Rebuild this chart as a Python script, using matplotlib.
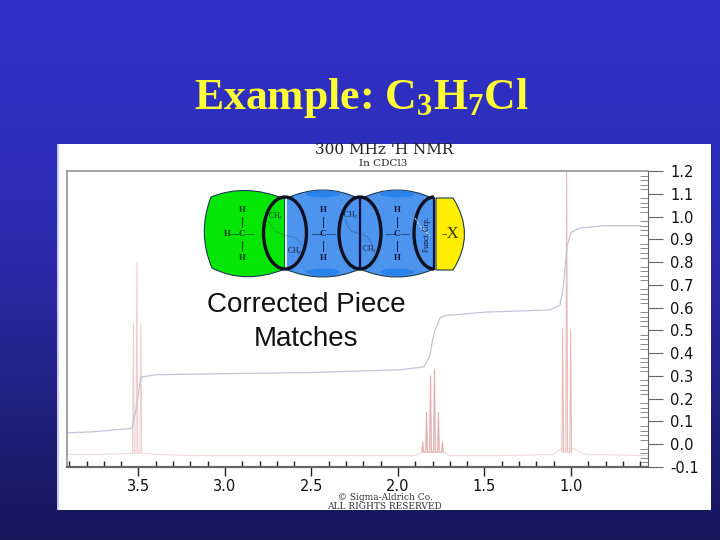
import numpy as np
import matplotlib
matplotlib.use("Agg")
import matplotlib.pyplot as plt
from matplotlib.patches import Ellipse, PathPatch, Arc, Rectangle
from matplotlib.path import Path

plt.rcParams["mathtext.default"] = "regular"
plt.rcParams["mathtext.fontset"] = "custom"
plt.rcParams["mathtext.rm"] = "Liberation Serif:bold"

title_parts = "Example: C$_3$H$_7$Cl"
x_major = [3.5, 3.0, 2.5, 2.0, 1.5, 1.0]
y_major = [1.2, 1.1, 1.0, 0.9, 0.8, 0.7, 0.6, 0.5, 0.4, 0.3, 0.2, 0.1, 0.0, -0.1]

# ppm / height of the peaks
triplet_a_ppm = [3.529, 3.509, 3.486]
triplet_a_top = [0.53, 0.80, 0.53]
sextet_ppm = [1.857, 1.835, 1.812, 1.789, 1.766, 1.743]
sextet_top = [0.01, 0.14, 0.30, 0.33, 0.14, 0.01]
triplet_b_ppm = [1.048, 1.025, 1.002]
triplet_b_top = [0.51, 1.20, 0.50]

base_ppm = [3.91, 3.70, 3.56, 3.46, 3.40, 3.18, 2.6, 1.90, 1.86, 1.74, 1.70, 1.4, 1.10, 1.06, 0.98, 0.94, 0.90, 0.56]
base_val = [-0.045, -0.045, -0.04, -0.04, -0.045, -0.05, -0.05, -0.05, -0.035, -0.035, -0.05, -0.05, -0.045, -0.02, -0.02, -0.04, -0.045, -0.05]

integ_ppm = [3.91, 3.75, 3.538, 3.515, 3.486, 3.40, 3.0, 2.5, 1.988, 1.85, 1.815, 1.80, 1.786, 1.757, 1.728, 1.5, 1.12, 1.064, 1.046, 1.03, 1.023, 1.0, 0.948, 0.8, 0.60]
integ_val = [0.05, 0.055, 0.07, 0.15, 0.295, 0.305, 0.31, 0.315, 0.327, 0.34, 0.39, 0.46, 0.50, 0.555, 0.565, 0.58, 0.59, 0.61, 0.68, 0.81, 0.87, 0.93, 0.95, 0.96, 0.96]

fig = plt.figure(figsize=(7.2, 5.4), dpi=100)

# slide background
bg = fig.add_axes([0, 0, 1, 1])
bg.set_xlim(0, 720)
bg.set_ylim(540, 0)
bg.axis("off")
grad = np.array([[48, 48, 200], [46, 46, 190], [42, 42, 168], [32, 32, 126], [22, 22, 90]]) / 255
bg.imshow(np.stack([np.interp(np.linspace(0, 4, 540), np.arange(5), grad[:, i]) for i in range(3)], axis=-1)[:, None, :],
          extent=[0, 720, 540, 0], aspect="auto", zorder=0)
bg.add_patch(Rectangle((57, 144), 654, 366, fc="#ffffff", ec="none", zorder=1))
bg.add_patch(Rectangle((57, 144), 2, 366, fc="#c8c8f0", ec="none", zorder=1))
bg.text(361, 109, title_parts, ha="center", va="baseline", fontsize=31.5, family="Liberation Serif",
        weight="bold", color="#ffff33", zorder=2)


def px_box(left, top, right, bottom):
    return [left / 720, 1 - bottom / 540, (right - left) / 720, (bottom - top) / 540]


ax = fig.add_axes(px_box(67, 171, 648, 467))
ax.patch.set_alpha(0)
ax.set_xlim(3.913, 0.555)
ax.set_ylim(-0.1, 1.2)


def trace(ppm, top, width=0.005):
    xs, ys = [], []
    for p, t in zip(ppm, top):
        xs += [p + width, p, p - width]
        ys += [-0.035, t, -0.035]
    return xs, ys


ax.plot(base_ppm, base_val, color="#eedcdc", lw=0.8)
xs, ys = trace(triplet_a_ppm, triplet_a_top)
ax.plot(xs, ys, color="#efcfcf", lw=0.8)
xs, ys = trace(sextet_ppm, sextet_top)
ax.plot(xs, ys, color="#e2abab", lw=0.8)
xs, ys = trace(triplet_b_ppm, triplet_b_top)
ax.plot(xs, ys, color="#e8baba", lw=0.8)
ax.plot(integ_ppm, integ_val, color="#c4c4d8", lw=0.9)

for s in ["left", "top"]:
    ax.spines[s].set_color("#8a8a8a")
    ax.spines[s].set_linewidth(1.1)
ax.spines["right"].set_color("#666666")
ax.spines["bottom"].set_color("#666666")
ax.spines["bottom"].set_linewidth(1.6)

ax.set_xticks(x_major)
ax.set_xticks(np.arange(0.6, 3.95, 0.1), minor=True)
ax.set_xticklabels(["%.1f" % v for v in x_major], fontsize=10.5, color="#111111")
ax.tick_params(axis="x", which="major", direction="out", length=6.5, width=1, color="#222222", pad=2)
ax.tick_params(axis="x", which="minor", direction="in", length=4, width=1, color="#222222")
ax.yaxis.tick_right()
ax.set_yticks(y_major)
ax.set_yticks(np.arange(-0.1, 1.2, 0.02), minor=True)
ax.set_yticklabels(["%.1f" % v for v in y_major], fontsize=10.5, color="#111111")
ax.tick_params(axis="y", which="major", direction="out", length=11, width=0.8, color="#666666", pad=5)
ax.tick_params(axis="y", which="minor", direction="in", length=6, width=0.6, color="#777777")

# overlay with the headings and the molecule pieces, in picture pixels
ov = fig.add_axes([0, 0, 1, 1])
ov.set_xlim(0, 720)
ov.set_ylim(540, 0)
ov.axis("off")
ov.patch.set_alpha(0)

ov.text(384, 150, "300 MHz 'H NMR", ha="center", va="center", fontsize=11, family="DejaVu Serif", color="#222222")
ov.text(383, 163, "In CDCl3", ha="center", va="center", fontsize=7.5, family="DejaVu Serif", color="#222222")
ov.text(385, 498, "© Sigma-Aldrich Co.", ha="center", va="center", fontsize=6.5, family="DejaVu Serif", color="#333333")
ov.text(384, 506.5, "ALL RIGHTS RESERVED", ha="center", va="center", fontsize=6.5, family="DejaVu Serif", color="#333333")


def blob(points, fc):
    verts, codes = [points[0]], [Path.MOVETO]
    for i in range(1, len(points), 2):
        verts += [points[i], points[i + 1]]
        codes += [Path.CURVE3, Path.CURVE3]
    ov.add_patch(PathPatch(Path(verts, codes), fc=fc, ec="#1a3a50", lw=0.8, zorder=2))


blob([(211, 197), (245, 183), (285, 199), (285, 233), (285, 269), (245, 285), (212, 268), (197, 233), (211, 197)], "#06e606")
blob([(285, 199), (323, 181), (360, 199), (360, 233), (360, 269), (323, 285), (285, 269), (285, 233), (285, 199)], "#4d94ee")
blob([(360, 199), (397, 181), (434, 199), (434, 233), (434, 269), (397, 285), (360, 269), (360, 233), (360, 199)], "#4d94ee")
blob([(436, 198), (445, 198), (453, 198), (476, 234), (453, 270), (444, 270), (436, 270), (436, 234), (436, 198)], "#ffee00")
for cx in [323, 397]:
    ov.add_patch(Ellipse((cx, 194), 34, 7, fc="#2b82ea", ec="none", zorder=3))
    ov.add_patch(Ellipse((cx, 272), 34, 7, fc="#2b82ea", ec="none", zorder=3))

ov.add_patch(Ellipse((285, 233), 43, 72, fc="none", ec="#101020", lw=2.4, zorder=5))
ov.add_patch(Ellipse((360, 233), 42, 72, fc="none", ec="#101020", lw=2.4, zorder=5))
ov.add_patch(Arc((434, 233), 40, 72, theta1=90, theta2=270, ec="#101020", lw=2.4, zorder=5))
ov.plot([286, 286], [198, 269], color="white", lw=1.2, zorder=4)
ov.plot([360, 360], [197, 269], color="#101040", lw=1.6, zorder=6)
ov.plot([434, 434], [198, 269], color="#101040", lw=1.6, zorder=6)

for cx, label in [(242, "H—C—"), (323, "—C—"), (397, "—C—")]:
    col = "#083808" if cx == 242 else "#0a1a40"
    ov.text(cx, 210, "H", ha="center", va="center", fontsize=6.5, family="Liberation Serif", weight="bold", color=col, zorder=6)
    ov.text(cx, 258, "H", ha="center", va="center", fontsize=6.5, family="Liberation Serif", weight="bold", color=col, zorder=6)
    ov.text(cx - 2 if cx == 242 else cx, 234, label, ha="center", va="center", fontsize=6.5, family="Liberation Serif", weight="bold", color=col, zorder=6)
    ov.plot([cx, cx], [217, 227], color=col, lw=0.7, zorder=6)
    ov.plot([cx, cx], [241, 251], color=col, lw=0.7, zorder=6)

for x, y in [(276, 216), (295, 251), (351, 215), (370, 249)]:
    ov.text(x, y, "CH$_2$", ha="center", va="center", fontsize=5.5, family="Liberation Serif", color="#10203a", zorder=7)
ov.plot([268, 275, 284, 296, 302], [221, 231, 235, 238, 245], color="#1a4a40", lw=0.5, ls=":", zorder=6)
ov.plot([345, 351, 360, 368, 372], [220, 231, 234, 237, 245], color="#10204a", lw=0.5, ls=":", zorder=6)
ov.plot([415, 420, 430], [218, 226, 236], color="#e8f0c0", lw=0.6, ls="--", zorder=6)

ov.text(427, 234, "Funct. Grp.", rotation=90, ha="center", va="center", fontsize=5.5, family="Liberation Serif", color="#101030", zorder=7)
ov.text(450, 234, "-X", ha="center", va="center", fontsize=12, family="Liberation Serif", color="#333300", zorder=7)

ov.text(306, 305, "Corrected Piece", ha="center", va="center", fontsize=20, family="Liberation Sans", color="#111111", zorder=7)
ov.text(306, 339, "Matches", ha="center", va="center", fontsize=20, family="Liberation Sans", color="#111111", zorder=7)

fig.savefig("out.png", dpi=100)
